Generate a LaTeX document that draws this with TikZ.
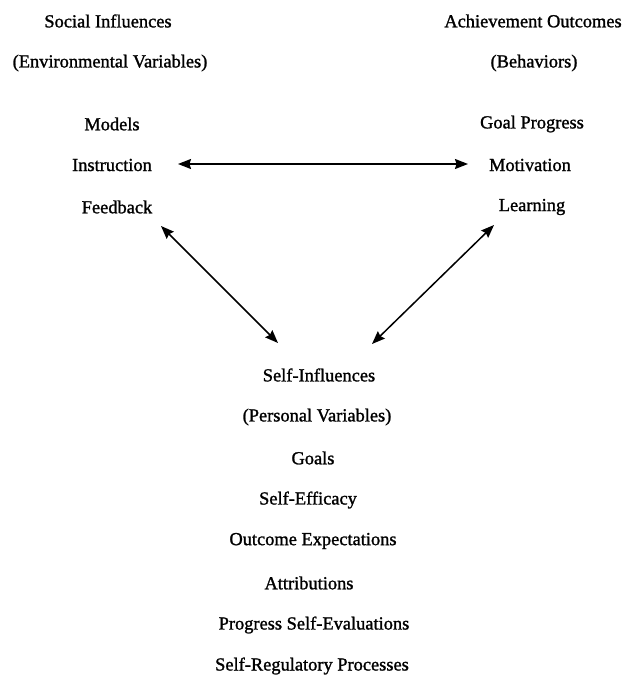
\documentclass[tikz,border=0pt]{standalone}
\usepackage{fontspec}
\setmainfont{Liberation Serif}
\newfontface\scanface{Liberation Serif}[FakeBold=1.3]
\usetikzlibrary{arrows.meta}
\begin{document}
\begin{tikzpicture}[x=1pt,y=-1pt,
  lbl/.style={font=\scanface\fontsize{18.4}{21}\selectfont, inner sep=0pt, anchor=center},
  link/.style={line width=1.5pt, {Stealth[length=13pt,width=10pt,inset=1.5pt]}-{Stealth[length=13pt,width=10pt,inset=1.5pt]}}]
\useasboundingbox (0,0) rectangle (623,677);
\node[lbl] (si) at (108,21) {Social Influences};
\node[lbl] (ev) at (110,63) {(Environmental Variables)};
\node[lbl] (ao) at (533,21) {Achievement Outcomes};
\node[lbl] (bh) at (534,63) {(Behaviors)};
\node[lbl] (mo) at (112,124) {Models};
\node[lbl] (in) at (112,165) {Instruction};
\node[lbl] (fb) at (117,207) {Feedback};
\node[lbl] (gp) at (532,124) {Goal Progress};
\node[lbl] (mv) at (530,165) {Motivation};
\node[lbl] (le) at (532,207) {Learning};
\node[lbl] (sf) at (319,375) {Self-Influences};
\node[lbl] (pv) at (317,417) {(Personal Variables)};
\node[lbl] (go) at (313,458) {Goals};
\node[lbl] (se) at (308,500) {Self-Efficacy};
\node[lbl] (oe) at (313,541) {Outcome Expectations};
\node[lbl] (at) at (309,583) {Attributions};
\node[lbl] (ps) at (314,625) {Progress Self-Evaluations};
\node[lbl] (sr) at (312,666) {Self-Regulatory Processes};
\coordinate (h1) at (178,164);
\coordinate (h2) at (468,164);
\coordinate (l1) at (161,226);
\coordinate (l2) at (278,343);
\coordinate (r1) at (494,225);
\coordinate (r2) at (372,344);
\draw[link] (h1) -- (h2);
\draw[link] (l1) -- (l2);
\draw[link] (r1) -- (r2);
\end{tikzpicture}
\end{document}
